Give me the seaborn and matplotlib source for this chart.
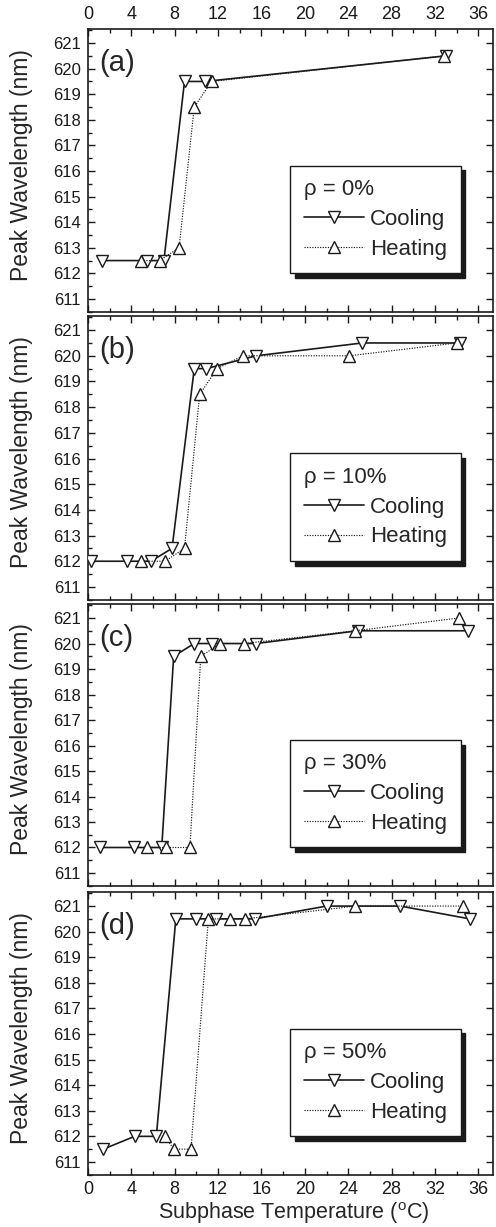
import matplotlib
matplotlib.use("Agg")
import matplotlib.pyplot as plt
import seaborn as sns
import numpy as np
from matplotlib.ticker import MultipleLocator

# ---------------- data ----------------
panel_labels = ["(a)", "(b)", "(c)", "(d)"]
rho_labels = ["\u03c1 = 0%", "\u03c1 = 10%", "\u03c1 = 30%", "\u03c1 = 50%"]

a_cool_T = [1.3, 5.4, 7.0, 8.9, 10.8, 33.0]
a_cool_W = [612.5, 612.5, 612.5, 619.5, 619.5, 620.5]
a_heat_T = [4.9, 6.6, 8.4, 9.8, 11.4, 32.8]
a_heat_W = [612.5, 612.5, 613.0, 618.5, 619.5, 620.5]

b_cool_T = [0.3, 3.6, 5.8, 7.75, 9.8, 10.9, 15.5, 25.3, 34.3]
b_cool_W = [612.0, 612.0, 612.0, 612.5, 619.5, 619.5, 620.0, 620.5, 620.5]
b_heat_T = [4.9, 7.1, 8.9, 10.3, 11.9, 14.3, 24.1, 34.0]
b_heat_W = [612.0, 612.0, 612.5, 618.5, 619.5, 620.0, 620.0, 620.5]

c_cool_T = [1.1, 4.2, 6.8, 7.9, 9.8, 11.4, 15.5, 24.9, 35.0]
c_cool_W = [612.0, 612.0, 612.0, 619.5, 620.0, 620.0, 620.0, 620.5, 620.5]
c_heat_T = [5.4, 7.2, 9.4, 10.4, 12.2, 14.4, 24.65, 34.2]
c_heat_W = [612.0, 612.0, 612.0, 619.5, 620.0, 620.0, 620.5, 621.0]

d_cool_T = [1.4, 4.3, 6.3, 8.1, 10.0, 11.8, 15.4, 22.0, 28.8, 35.2]
d_cool_W = [611.5, 612.0, 612.0, 620.5, 620.5, 620.5, 620.5, 621.0, 621.0, 620.5]
d_heat_T = [7.1, 7.9, 9.5, 11.1, 13.1, 14.5, 24.65, 34.6]
d_heat_W = [612.0, 611.5, 611.5, 620.5, 620.5, 620.5, 621.0, 621.0]

cool_sets = [(a_cool_T, a_cool_W), (b_cool_T, b_cool_W), (c_cool_T, c_cool_W), (d_cool_T, d_cool_W)]
heat_sets = [(a_heat_T, a_heat_W), (b_heat_T, b_heat_W), (c_heat_T, c_heat_W), (d_heat_T, d_heat_W)]

x_ticks = [0, 4, 8, 12, 16, 20, 24, 28, 32, 36]
y_ticks = [611, 612, 613, 614, 615, 616, 617, 618, 619, 620, 621]

# ---------------- style ----------------
sns.set_theme(style="ticks")
plt.rcParams['font.family'] = ['Liberation Sans', 'DejaVu Sans']
plt.rcParams['mathtext.fontset'] = 'custom'
plt.rcParams['mathtext.rm'] = 'Liberation Sans'
plt.rcParams['mathtext.it'] = 'Liberation Sans:italic'

W, H = 496, 1227
fig = plt.figure(figsize=(W / 100, H / 100), dpi=100)

left_px, right_px = 88, 493
panel_px = [(29, 312), (316, 600), (604, 886), (892, 1175)]

for i, (top, bot) in enumerate(panel_px):
    ax = fig.add_axes([left_px / W, 1 - bot / H, (right_px - left_px) / W, (bot - top) / H])
    ct, cw = cool_sets[i]
    ht, hw = heat_sets[i]
    sns.lineplot(x=ct, y=cw, ax=ax, color='k', linestyle='-', linewidth=1.2,
                 marker='v', markersize=8.5, markerfacecolor='white',
                 markeredgecolor='k', markeredgewidth=1.0, label='Cooling', zorder=3)
    sns.lineplot(x=ht, y=hw, ax=ax, color='k', linestyle=(0, (1, 1.2)), linewidth=0.85,
                 marker='^', markersize=8.5, markerfacecolor='white',
                 markeredgecolor='k', markeredgewidth=1.0, label='Heating', zorder=3)

    ax.set_xlim(0, 37.35)
    ax.set_ylim(610.49, 621.55)
    ax.set_xticks(x_ticks)
    ax.set_yticks(y_ticks)
    ax.xaxis.set_minor_locator(MultipleLocator(2))
    ax.yaxis.set_minor_locator(MultipleLocator(0.5))
    ax.tick_params(which='both', direction='in', top=True, bottom=True,
                   left=True, right=True, colors='k', width=1.0)
    ax.tick_params(which='major', length=5)
    ax.tick_params(which='minor', length=3)
    ax.tick_params(axis='y', which='minor', right=False)
    ax.tick_params(axis='y', labelsize=12, pad=5)
    ax.tick_params(axis='x', labelsize=13, pad=4)
    if i == 0:
        ax.tick_params(axis='x', labeltop=True, labelbottom=False)
    elif i == 3:
        ax.tick_params(axis='x', labeltop=False, labelbottom=True)
    else:
        ax.tick_params(axis='x', labeltop=False, labelbottom=False)
    for s in ax.spines.values():
        s.set_linewidth(1.2)
        s.set_color('k')

    ax.set_ylabel('Peak Wavelength (nm)', fontsize=16.5)
    ax.yaxis.set_label_coords(-0.135, 0.52)
    if i == 3:
        ax.set_xlabel(r'Subphase Temperature ($^{\rm o}$C)', fontsize=15.5)
        ax.xaxis.set_label_coords(0.507, -0.09)
    else:
        ax.set_xlabel('')

    ax.text(0.028, 0.88, panel_labels[i], transform=ax.transAxes,
            fontsize=21, ha='left', va='center')

    handles, labels = ax.get_legend_handles_labels()
    leg = ax.legend(handles, labels, title=rho_labels[i], loc='lower right',
                    bbox_to_anchor=(0.92, 0.138), fontsize=16, title_fontsize=16,
                    alignment='left', frameon=True, fancybox=False,
                    shadow={'ox': 3.5, 'oy': -3.5, 'color': 'k', 'alpha': 1},
                    handlelength=2.7, handletextpad=0.3, labelspacing=0.4,
                    borderpad=0.6, numpoints=1, borderaxespad=0)
    leg.get_frame().set_edgecolor('k')
    leg.get_frame().set_linewidth(1.0)
    leg.get_frame().set_facecolor('white')
    leg.get_frame().set_alpha(1)

fig.savefig('out.png', dpi=100)
